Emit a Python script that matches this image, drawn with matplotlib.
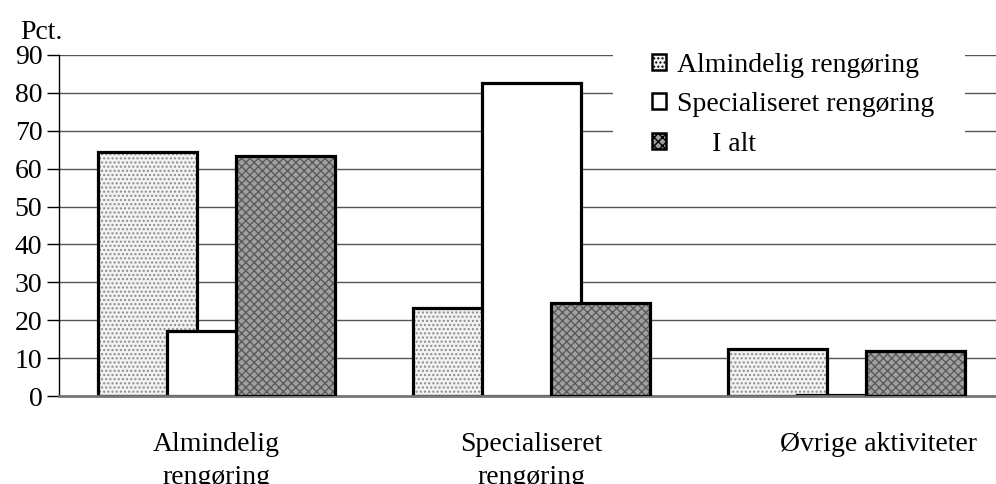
import matplotlib.pyplot as plt
import numpy as np
from matplotlib.patches import Patch, Rectangle

plt.rcParams['font.family'] = ['Liberation Serif', 'DejaVu Serif']

categories = ['Almindelig\nrengøring', 'Specialiseret\nrengøring', 'Øvrige aktiviteter']
series_names = ['Almindelig rengøring', 'Specialiseret rengøring', '     I alt']
almindelig = [64.5, 23.3, 12.3]
specialiseret = [17.1, 82.6, 0.3]
i_alt = [63.4, 24.6, 12.0]
yticks = [0, 10, 20, 30, 40, 50, 60, 70, 80, 90]

W, H = 996, 484
fig = plt.figure(figsize=(W / 100, H / 100), dpi=100)
# axes run slightly past the right border, like the source
ax = fig.add_axes([59 / W, 88 / H, 945 / W, 341 / H])

x = np.arange(len(categories))
width = 0.314
offset = 0.219

styles = [
    dict(face='#f2f2f2', hatch='....', hcol='#8a8a8a'),
    dict(face='white', hatch=None, hcol='white'),
    dict(face='#a0a0a0', hatch='xxxx', hcol='#5a5a5a'),
]
values = [almindelig, specialiseret, i_alt]

z = 2
for k, (vals, st) in enumerate(zip(values, styles)):
    pos = x + (k - 1) * offset
    ax.bar(pos, vals, width, color=st['face'], hatch=st['hatch'],
           edgecolor=st['hcol'], linewidth=0, zorder=z)
    ax.bar(pos, vals, width, fill=False, edgecolor='black', linewidth=2.3,
           zorder=z + 0.1)
    z += 0.2

ax.set_xlim(-0.5, 2.5)
ax.set_ylim(0, 90)
ax.set_yticks(yticks)
ax.tick_params(axis='y', length=9, width=1, labelsize=20, pad=3, colors='black')
ax.set_xticks([0, 1, 2.1])
ax.set_xticklabels(categories, fontsize=20, linespacing=1.4)
ax.tick_params(axis='x', length=0, pad=26)

ax.yaxis.grid(True, color='#555555', linewidth=1)
ax.set_axisbelow(True)
for s in ['top', 'right']:
    ax.spines[s].set_visible(False)
ax.spines['left'].set_linewidth(1)
ax.spines['bottom'].set_color('#777777')
ax.spines['bottom'].set_linewidth(2)

fig.text(20 / W, 1 - 33 / H, 'Pct.', fontsize=20, va='center', ha='left')

# white area behind the legend (hides gridlines there)
ax.add_patch(Rectangle((613 / W, 1 - 152 / H), 352 / W, 110 / H,
                       transform=fig.transFigure, facecolor='white',
                       edgecolor='none', zorder=1.5, clip_on=False))

handles = [
    Patch(facecolor=st['face'], hatch=st['hatch'], edgecolor='black', linewidth=1.8)
    for st in styles
]
leg = ax.legend(handles, series_names, loc='upper left',
                bbox_to_anchor=(649 / W, 1 - 50 / H), bbox_transform=fig.transFigure,
                fontsize=20, frameon=False,
                handlelength=0.5, handleheight=0.5, handletextpad=0.4,
                labelspacing=0.52, borderpad=0.1, borderaxespad=0)
leg.set_zorder(10)

fig.savefig('out.png', dpi=100)
